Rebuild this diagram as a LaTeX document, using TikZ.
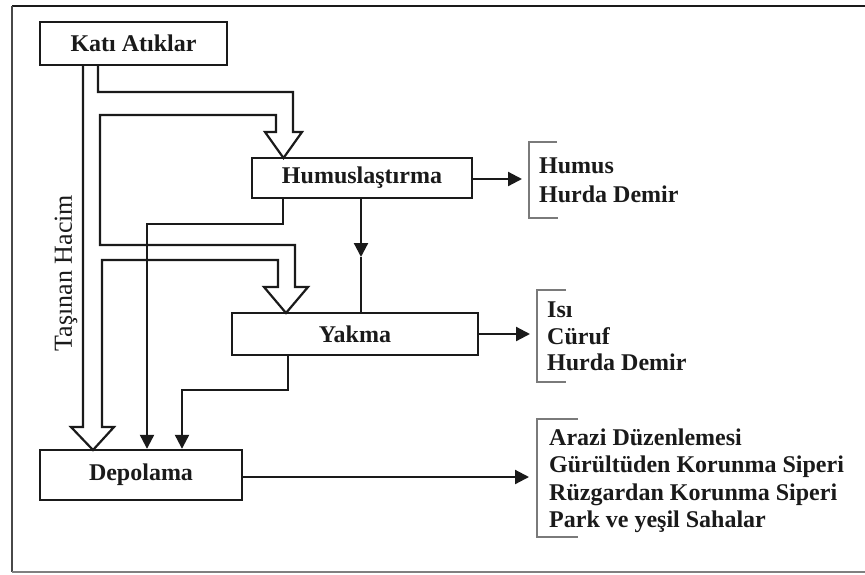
\documentclass[tikz,border=0pt]{standalone}
\usepackage{fontspec}
\setmainfont{Liberation Serif}
\usetikzlibrary{arrows.meta}
\definecolor{ink}{HTML}{1A1A1A}
\definecolor{brk}{HTML}{7A7A7A}
\tikzset{
  boxnode/.style={draw=ink, line width=2.4pt, inner sep=0pt, text=ink,
    font=\fontsize{24}{28}\selectfont\bfseries},
  lbl/.style={anchor=base west, inner sep=0pt, text=ink,
    font=\fontsize{24}{28}\selectfont\bfseries},
  conn/.style={draw=ink, line width=2.2pt},
  tip/.style={-{Triangle[length=14pt,width=14pt]}},
  fat/.style={draw=ink, line width=2.2pt, line join=miter},
  bracketline/.style={draw=brk, line width=2pt},
  framel/.style={line width=2.6pt}
}
\begin{document}
\begin{tikzpicture}[x=1pt,y=-1pt]
\useasboundingbox (0,0) rectangle (865,574);
% frame
\draw[framel, draw=ink] (865,6) -- (12,6);
\draw[framel, draw=ink!80] (12,6) -- (12,572);
\draw[line width=2pt, draw=gray] (12,572) -- (865,572);

% boxes
\node[boxnode, minimum width=187pt, minimum height=43pt] (kati) at (133.5,43.5) {Katı Atıklar};
\node[boxnode, minimum width=220pt, minimum height=40pt] (humus) at (362,178) {Humuslaştırma};
\node[boxnode, minimum width=246pt, minimum height=42pt] (yakma) at (355,334) {Yakma};
\node[boxnode, minimum width=202pt, minimum height=50pt] (depo) at (141,475) {Depolama};

% fat (hollow) arrows
\draw[fat] (83,65) -- (83,427) -- (71,427) -- (93,450) -- (114,427) -- (102,427)
  -- (102,260) -- (278,260) -- (278,287) -- (264,287) -- (286,313) -- (308,287)
  -- (295,287) -- (295,245) -- (100,245) -- (100,115) -- (276,115) -- (276,132)
  -- (265,132) -- (283.5,158) -- (302,132) -- (293,132) -- (293,92) -- (98,92) -- (98,65);

% thin connectors
\coordinate (h1) at (283,224);
\coordinate (h2) at (147,224);
\draw[conn, tip] (humus.south -| 283,0) -- (h1) -- (h2) -- (h2 |- depo.north);
\coordinate (y1) at (288,390);
\coordinate (y2) at (182,390);
\draw[conn, tip] (yakma.south -| 288,0) -- (y1) -- (y2) -- (y2 |- depo.north);
\coordinate (hm) at (361,257);
\draw[conn, tip] (humus.south -| hm) -- (hm);
\draw[conn] (hm) -- (yakma.north -| hm);

% outputs
\coordinate (o1) at (522,179);
\coordinate (o2) at (530,334);
\coordinate (o3) at (529,477);
\draw[conn, tip] (humus.east |- o1) -- (o1);
\draw[conn, tip] (yakma.east |- o2) -- (o2);
\draw[conn, tip] (depo.east |- o3) -- (o3);

% brackets
\draw[bracketline] (557,142) -- (529,142) -- (529,218) -- (558,218);
\draw[bracketline] (566,290) -- (537,290) -- (537,382) -- (566,382);
\draw[bracketline] (578,419) -- (537,419) -- (537,537) -- (578,537);

% output labels
\node[lbl] (l1) at (539,173) {Humus};
\node[lbl] (l2) at (539,202) {Hurda Demir};
\node[lbl] (l3) at (547,317) {Isı};
\node[lbl] (l4) at (547,344) {Cüruf};
\node[lbl] (l5) at (547,370) {Hurda Demir};
\node[lbl] (l6) at (549,445) {Arazi Düzenlemesi};
\node[lbl] (l7) at (549,472) {Gürültüden Korunma Siperi};
\node[lbl] (l8) at (549,500) {Rüzgardan Korunma Siperi};
\node[lbl] (l9) at (549,527) {Park ve yeşil Sahalar};

% rotated label
\node[rotate=90, inner sep=0pt, text=ink, font=\fontsize{26}{30}\selectfont] (th) at (66,273) {Taşınan Hacim};
\end{tikzpicture}
\end{document}
